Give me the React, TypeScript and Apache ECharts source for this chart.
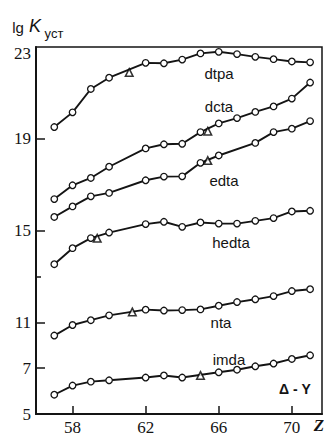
import React, { useEffect, useRef } from "react";
import * as echarts from "echarts";

// Atomic number Z (La..Lu)
const zValues = [57, 58, 59, 60, 61, 62, 63, 64, 65, 66, 67, 68, 69, 70, 71];
// lg K (stability constants); null = no point
const dtpa = [19.51, 20.15, 21.17, 21.66, null, 22.31, 22.29, 22.45, 22.72, 22.79, 22.69, 22.57, 22.47, 22.37, 22.33];
const dcta = [16.37, 16.97, 17.29, 17.78, null, 18.58, 18.76, 18.78, 19.29, 19.67, 19.9, 20.17, 20.41, 20.75, 21.45];
const edta = [15.59, 16.05, 16.49, 16.64, null, 17.19, 17.35, 17.36, 17.95, 18.27, null, 18.82, 19.29, 19.44, 19.77];
const hedta = [13.53, 14.23, 14.67, 14.91, null, 15.28, 15.38, 15.16, 15.35, 15.3, 15.3, 15.42, 15.54, 15.83, 15.86];
const nta = [10.42, 10.88, 11.09, 11.3, null, 11.55, 11.51, 11.53, 11.56, 11.72, 11.88, 12.0, 12.14, 12.36, 12.44];
const imda = [5.84, 6.24, 6.41, 6.47, null, 6.59, 6.68, 6.59, null, 6.82, 6.93, 7.08, 7.2, 7.4, 7.56];

// Yttrium (triangles) placed among the lanthanides
const yttriumZ = [61.1, 65.4, 65.4, 59.35, 61.27, 65.0];
const yttriumK = [21.89, 19.33, 18.05, 14.66, 11.45, 6.68];

const seriesNames = ["dtpa", "dcta", "edta", "hedta", "nta", "imda"];
const seriesValues = [dtpa, dcta, edta, hedta, nta, imda];

const xTickLabels = [58, 62, 66, 70];
const yTickLabels = [5, 7, 11, 15, 19, 23];
const yMinorTicks = [13];

// broken axis: values below 9 are shifted up by 2 units
const BREAK = 9;
const SHIFT = 2;
const toAxis = (v: number) => (v >= BREAK ? v : v + SHIFT);
const fromAxis = (d: number) => (d >= BREAK + 1 ? d : d - SHIFT);

const INK = "#141414";

export default function App() {
  const ref = useRef<HTMLDivElement>(null);

  useEffect(() => {
    if (!ref.current) return;
    const chart = echarts.init(ref.current, undefined, { renderer: "svg" });

    const lineSeries = seriesValues.map((vals, i) => ({
      name: seriesNames[i],
      type: "line",
      data: zValues
        .map((z, j) => (vals[j] == null ? null : [z, toAxis(vals[j] as number)]))
        .filter((p) => p !== null),
      symbol: "circle",
      symbolSize: 6.5,
      lineStyle: { color: INK, width: 1.9 },
      itemStyle: { color: "#fff", borderColor: INK, borderWidth: 1.3 },
      z: 3,
    }));

    const triSeries = {
      name: "Y",
      type: "scatter",
      data: yttriumZ.map((z, i) => [z, toAxis(yttriumK[i])]),
      symbol: "triangle",
      symbolSize: 7.5,
      itemStyle: { color: "#fff", borderColor: "#000", borderWidth: 1.6 },
      z: 4,
    };

    const labelFont = "'Liberation Serif', 'DejaVu Serif', serif";
    const sans = "'Liberation Sans', Arial, sans-serif";

    const yAxisBase = {
      type: "value",
      min: toAxis(5),
      max: 23,
      position: "left",
      splitLine: { show: false },
    };

    const textEl = (text: string, x: number, y: number, extra: any = {}) => ({
      type: "text",
      x,
      y,
      style: {
        text,
        fill: INK,
        font: `15px ${sans}`,
        align: "center",
        verticalAlign: "middle",
        ...extra,
      },
      z: 10,
    });

    chart.setOption({
      animation: false,
      backgroundColor: "#fff",
      grid: {
        left: 36,
        right: 2,
        top: 47,
        bottom: 22,
        show: true,
        borderColor: INK,
        borderWidth: 1.5,
        backgroundColor: "transparent",
      },
      xAxis: {
        type: "value",
        min: 56,
        max: 71.65,
        splitLine: { show: false },
        axisLine: { lineStyle: { color: INK, width: 2 } },
        axisTick: {
          inside: true,
          length: 8,
          lineStyle: { color: INK, width: 1.5 },
          customValues: xTickLabels,
        },
        axisLabel: {
          customValues: xTickLabels,
          color: INK,
          fontFamily: labelFont,
          fontSize: 17,
          margin: 5,
        },
      },
      yAxis: [
        {
          ...yAxisBase,
          axisLine: { show: true, lineStyle: { color: INK, width: 2 } },
          axisTick: {
            inside: true,
            length: 9,
            lineStyle: { color: INK, width: 1.5 },
            customValues: yTickLabels.filter((v) => v !== 5 && v !== 23).map(toAxis),
          },
          axisLabel: {
            customValues: yTickLabels.map(toAxis),
            color: INK,
            fontFamily: labelFont,
            fontSize: 17,
            margin: 5,
            formatter: (d: number) => {
              const v = Math.round(fromAxis(d));
              return v === 23 ? `{top|${v}}` : `${v}`;
            },
            rich: {
              top: {
                padding: [12, 0, 0, 0],
                fontFamily: labelFont,
                fontSize: 17,
                color: INK,
              },
            },
          },
        },
        {
          ...yAxisBase,
          offset: 0,
          axisLine: { show: false },
          axisLabel: { show: false },
          axisTick: {
            inside: true,
            length: 5,
            lineStyle: { color: INK, width: 1.5 },
            customValues: yMinorTicks.map(toAxis),
          },
        },
      ],
      series: [...lineSeries, triSeries],
      graphic: [
        textEl("dtpa", 219, 73),
        textEl("dcta", 219, 106),
        textEl("edta", 224, 180),
        textEl("hedta", 231, 242),
        textEl("nta", 221, 322),
        textEl("imda", 229, 359),
        textEl("Δ - Y", 295, 389, { font: `bold 14px ${sans}` }),
        textEl("lg", 18, 27, { font: `15px ${sans}` }),
        textEl("K", 35, 26, { font: `italic 18px ${sans}` }),
        textEl("уст", 54, 33, { font: `13px ${sans}` }),
        textEl("Z", 319, 425, { font: `bold italic 17px ${labelFont}` }),
      ],
    });

    return () => chart.dispose();
  }, []);

  return (
    <div
      ref={ref}
      style={{ position: "fixed", left: 0, top: 0, width: 324, height: 436 }}
    />
  );
}
